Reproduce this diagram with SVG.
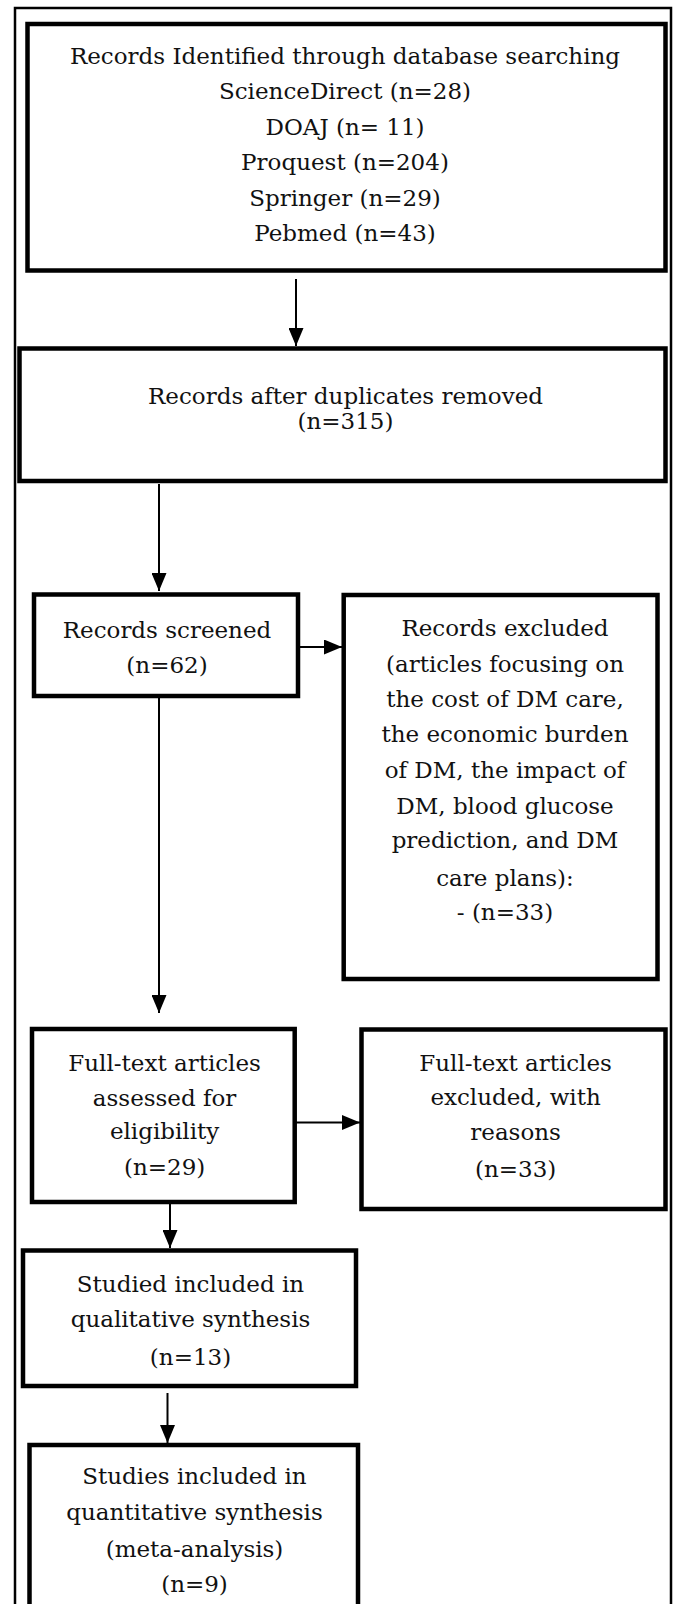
<svg xmlns="http://www.w3.org/2000/svg" width="676" height="1604" viewBox="0 0 676 1604">
<style>
  .box { fill: #ffffff; stroke: #000000; stroke-width: 4.5; }
  .frame { fill: none; stroke: #000000; stroke-width: 2.5; }
  .t { font-family: "DejaVu Serif", "Liberation Serif", serif; font-size: 23px; fill: #111111; text-anchor: middle; }
  .conn { stroke: #000000; stroke-width: 2; fill: none; }
</style>
<defs>
  <marker id="ah" markerWidth="18" markerHeight="15" refX="18" refY="7.5" orient="auto" markerUnits="userSpaceOnUse">
    <path d="M0,0 L18,7.5 L0,15 z" fill="#000000"/>
  </marker>
</defs>
<rect x="0" y="0" width="676" height="1604" fill="#ffffff"/>
<rect class="frame" x="15" y="8" width="656" height="1610"/>

<g id="connectors">
  <line class="conn" x1="296" y1="279" x2="296" y2="346" marker-end="url(#ah)"/>
  <line class="conn" x1="159" y1="484" x2="159" y2="591" marker-end="url(#ah)"/>
  <line class="conn" x1="300" y1="647" x2="342" y2="647" marker-end="url(#ah)"/>
  <line class="conn" x1="159" y1="698" x2="159" y2="1013" marker-end="url(#ah)"/>
  <line class="conn" x1="296" y1="1122.5" x2="360" y2="1122.5" marker-end="url(#ah)"/>
  <line class="conn" x1="170" y1="1204" x2="170" y2="1248" marker-end="url(#ah)"/>
  <line class="conn" x1="167.5" y1="1393" x2="167.5" y2="1443" marker-end="url(#ah)"/>
</g>

<g id="n1">
  <rect class="box" x="27.5" y="24" width="638" height="246.5"/>
  <text class="t" x="345" y="63.5">Records Identified through database searching</text>
  <text class="t" x="345" y="99">ScienceDirect (n=28)</text>
  <text class="t" x="345" y="134.5">DOAJ (n= 11)</text>
  <text class="t" x="345" y="170">Proquest (n=204)</text>
  <text class="t" x="345" y="205.5">Springer (n=29)</text>
  <text class="t" x="345" y="241">Pebmed (n=43)</text>
</g>

<g id="n2">
  <rect class="box" x="19.5" y="348.5" width="646" height="132.5"/>
  <text class="t" x="345.5" y="404">Records after duplicates removed</text>
  <text class="t" x="345.5" y="429">(n=315)</text>
</g>

<g id="n3">
  <rect class="box" x="34" y="594.5" width="264" height="101.5"/>
  <text class="t" x="167" y="637.5">Records screened</text>
  <text class="t" x="167" y="673">(n=62)</text>
</g>

<g id="n4">
  <rect class="box" x="343.7" y="595" width="313.8" height="384"/>
  <text class="t" x="505" y="636">Records excluded</text>
  <text class="t" x="505" y="671.5">(articles focusing on</text>
  <text class="t" x="505" y="706.5">the cost of DM care,</text>
  <text class="t" x="505" y="742">the economic burden</text>
  <text class="t" x="505" y="778">of DM, the impact of</text>
  <text class="t" x="505" y="814">DM, blood glucose</text>
  <text class="t" x="505" y="848">prediction, and DM</text>
  <text class="t" x="505" y="885.5">care plans):</text>
  <text class="t" x="505" y="919.5">- (n=33)</text>
</g>

<g id="n5">
  <rect class="box" x="32" y="1029" width="262.7" height="173"/>
  <text class="t" x="164.6" y="1071">Full-text articles</text>
  <text class="t" x="164.6" y="1106">assessed for</text>
  <text class="t" x="164.6" y="1139">eligibility</text>
  <text class="t" x="164.6" y="1175">(n=29)</text>
</g>

<g id="n6">
  <rect class="box" x="361.5" y="1029.5" width="304" height="179.5"/>
  <text class="t" x="515.6" y="1071">Full-text articles</text>
  <text class="t" x="515.6" y="1105">excluded, with</text>
  <text class="t" x="515.6" y="1139.5">reasons</text>
  <text class="t" x="515.6" y="1177">(n=33)</text>
</g>

<g id="n7">
  <rect class="box" x="23" y="1250.5" width="333" height="135.5"/>
  <text class="t" x="190.5" y="1292">Studied included in</text>
  <text class="t" x="190.5" y="1327">qualitative synthesis</text>
  <text class="t" x="190.5" y="1365">(n=13)</text>
</g>

<g id="n8">
  <rect class="box" x="29.5" y="1445" width="328.5" height="180"/>
  <text class="t" x="194.5" y="1484">Studies included in</text>
  <text class="t" x="194.5" y="1520">quantitative synthesis</text>
  <text class="t" x="194.5" y="1556.5">(meta-analysis)</text>
  <text class="t" x="194.5" y="1592">(n=9)</text>
</g>
</svg>
